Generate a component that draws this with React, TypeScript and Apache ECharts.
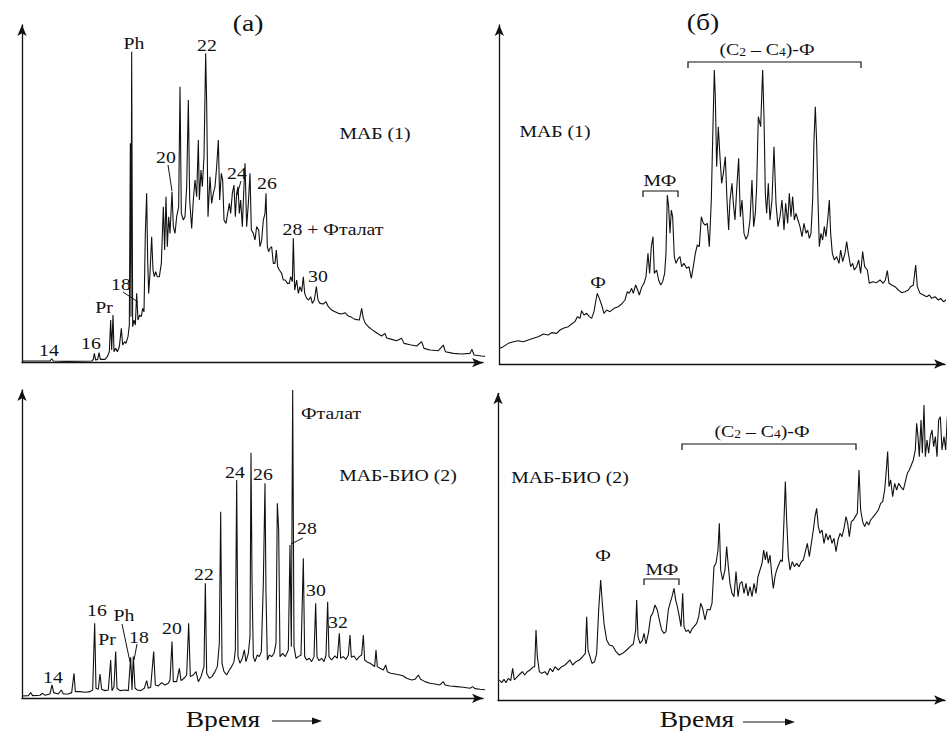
import React, { useEffect, useRef } from "react";
import * as echarts from "echarts";

// Panel (a), MAB (1): [time, intensity]
const traceA: number[][] = [
  [0,5],[84,5],[89,12],[94,5],[134,4],[209,5],[214,10],[217,28],[221,8],[227,10],[231,30],[235,10],[249,10],[256,18],[262,33],
  [266,128],[269,38],[273,143],[276,33],[281,43],[286,33],[292,48],[298,103],[302,53],[308,63],[312,58],[318,78],[322,113],
  [325,658],[327,138],[329,933],[332,108],[336,128],[340,113],[344,208],[348,128],[353,143],[358,138],[362,163],[366,153],
  [370,388],[374,508],[377,308],[380,208],[384,268],[389,378],[393,278],[397,258],[401,273],[406,258],[412,258],[418,298],
  [424,468],[428,338],[432,498],[436,348],[440,438],[444,388],[450,513],[454,408],[459,388],[464,438],[470,468],[474,828],
  [478,448],[484,428],[489,438],[494,528],[499,788],[503,488],[509,403],[514,488],[519,548],[524,498],[529,668],[532,488],
  [537,578],[541,528],[546,618],[551,928],[554,778],[558,438],[564,558],[569,478],[574,508],[579,528],[584,588],[589,668],
  [593,488],[598,568],[602,548],[606,428],[612,418],[617,448],[622,478],[626,448],[631,508],[636,533],[640,438],[644,508],
  [648,528],[652,448],[656,488],[661,408],[665,508],[669,598],[674,408],[679,478],[684,568],[688,398],[694,388],[699,368],
  [704,408],[710,398],[714,348],[719,368],[724,428],[729,448],[732,508],[736,348],[740,333],[744,343],[749,348],[754,298],
  [759,298],[763,338],[767,288],[772,278],[779,268],[784,248],[790,248],[796,238],[802,238],[806,258],[811,243],[814,373],
  [818,218],[824,248],[829,208],[834,228],[839,213],[844,258],[848,208],[854,193],[860,188],[866,198],[871,178],[877,188],
  [883,228],[888,188],[894,178],[904,176],[912,183],[919,168],[929,158],[939,153],[949,148],[959,146],[969,150],[979,140],
  [989,136],[999,130],[1012,128],[1019,163],[1024,133],[1030,118],[1039,108],[1049,100],[1059,93],[1069,86],[1079,80],
  [1089,88],[1094,74],[1109,70],[1124,66],[1139,73],[1146,58],[1164,54],[1184,50],[1199,63],[1206,43],[1224,38],[1249,36],
  [1264,53],[1270,33],[1294,28],[1319,26],[1344,28],[1350,40],[1356,23],[1379,20],[1396,18]
];

// Panel (б), MAB (1)
const traceB: number[][] = [
  [2,47],[12,52],[27,62],[42,67],[57,70],[72,67],[87,72],[102,77],[117,82],[132,90],[147,87],[157,94],[172,92],[182,102],
  [192,107],[207,112],[217,120],[227,127],[234,142],[242,137],[247,160],[254,147],[262,152],[270,142],[277,137],[284,157],
  [290,192],[294,212],[300,197],[307,177],[314,152],[322,162],[332,157],[344,167],[357,172],[367,180],[377,192],[384,217],
  [390,212],[397,227],[402,212],[409,237],[415,222],[420,207],[427,230],[434,242],[440,262],[446,332],[451,272],[456,352],
  [461,382],[465,272],[472,282],[478,252],[484,237],[490,247],[496,272],[500,332],[504,507],[508,472],[512,392],[516,462],
  [520,442],[525,322],[530,302],[537,317],[542,322],[547,292],[554,302],[562,287],[569,292],[576,257],[582,292],[588,332],
  [594,357],[600,352],[606,442],[612,422],[618,417],[624,422],[630,352],[636,492],[640,672],[645,882],[648,802],[652,592],
  [657,712],[662,622],[667,542],[672,572],[678,622],[683,492],[688,402],[692,492],[698,542],[702,482],[707,432],[712,522],
  [718,617],[723,442],[728,492],[734,392],[740,374],[746,387],[752,432],[758,552],[763,412],[768,452],[772,532],[777,742],
  [784,712],[790,882],[794,742],[798,512],[802,452],[807,542],[812,432],[818,492],[824,652],[830,482],[836,412],[842,442],
  [848,492],[854,402],[859,482],[865,422],[870,512],[875,442],[880,502],[885,432],[890,452],[896,432],[902,412],[908,382],
  [914,422],[920,392],[925,402],[930,377],[935,392],[940,492],[944,672],[948,772],[952,662],[956,492],[960,352],[965,392],
  [970,372],[975,412],[980,382],[986,442],[990,492],[994,392],[999,332],[1005,312],[1012,322],[1019,302],[1024,342],
  [1030,307],[1037,332],[1042,367],[1047,332],[1054,292],[1060,302],[1065,282],[1072,292],[1078,312],[1084,272],[1090,337],
  [1096,292],[1104,282],[1110,242],[1120,247],[1132,244],[1142,252],[1152,242],[1158,252],[1164,280],[1169,242],[1177,237],
  [1187,232],[1197,222],[1207,214],[1217,217],[1227,222],[1234,232],[1242,237],[1249,297],[1254,232],[1262,212],[1272,207],
  [1282,202],[1290,207],[1297,197],[1307,202],[1317,192],[1324,197],[1332,187],[1340,192],[1346,182],[1352,177]
];

// Panel (a), MAB-BIO (2)
const traceC: number[][] = [
  [0,7],[19,8],[26,17],[32,8],[54,9],[62,15],[69,9],[84,13],[90,40],[95,17],[109,13],[118,25],[124,13],[139,13],[149,17],
  [156,75],[160,20],[174,20],[189,18],[204,20],[212,25],[218,225],[222,30],[229,27],[234,73],[239,27],[249,23],[259,25],
  [266,115],[270,23],[276,35],[281,140],[285,30],[294,23],[309,25],[319,23],[326,123],[330,25],[334,125],[339,30],[346,25],
  [356,23],[367,30],[374,53],[379,30],[386,33],[395,140],[400,40],[409,37],[419,47],[429,40],[439,45],[444,55],[450,170],
  [454,50],[464,50],[472,90],[477,53],[486,60],[494,70],[500,225],[505,65],[514,70],[522,80],[529,50],[537,65],[546,95],
  [550,345],[554,75],[562,60],[570,65],[579,80],[586,95],[592,165],[596,560],[600,105],[606,80],[614,70],[622,85],[629,95],
  [636,110],[640,145],[644,655],[648,125],[654,105],[661,120],[667,145],[672,110],[679,135],[684,185],[687,737],[690,355],
  [694,125],[699,110],[706,130],[712,125],[718,140],[724,345],[729,645],[732,315],[736,115],[742,130],[749,125],[756,135],
  [762,165],[766,585],[770,505],[774,125],[782,135],[790,125],[799,145],[804,460],[808,155],[812,925],[816,155],[822,120],
  [829,125],[837,130],[844,420],[848,125],[854,115],[862,120],[869,110],[876,125],[881,285],[885,125],[891,113],[899,120],
  [906,110],[912,130],[917,290],[921,125],[929,115],[939,127],[946,120],[952,195],[956,120],[964,125],[972,117],[979,130],
  [984,190],[988,123],[996,127],[1004,115],[1012,125],[1019,130],[1024,190],[1028,115],[1034,110],[1044,105],[1052,100],
  [1058,95],[1062,145],[1066,95],[1074,90],[1084,85],[1091,100],[1096,80],[1106,75],[1119,73],[1134,70],[1144,67],[1154,60],
  [1169,55],[1179,57],[1189,70],[1196,57],[1209,50],[1224,45],[1239,43],[1254,40],[1264,50],[1269,40],[1284,37],[1304,35],
  [1324,33],[1344,30],[1352,35],[1359,29],[1374,27],[1396,25]
];

// Panel (б), MAB-BIO (2)
const traceD: number[][] = [
  [4,60],[11,52],[18,62],[24,52],[31,65],[38,58],[44,95],[49,60],[58,70],[66,78],[73,85],[80,75],[88,85],[96,90],[104,98],
  [110,100],[114,210],[118,130],[124,85],[131,80],[141,85],[148,75],[156,95],[164,85],[171,100],[181,90],[191,100],[201,105],
  [211,115],[216,120],[224,105],[234,115],[244,120],[254,130],[262,140],[266,250],[270,150],[276,130],[282,110],[290,115],
  [296,140],[302,270],[308,360],[313,290],[318,230],[326,180],[334,165],[344,162],[354,145],[364,135],[374,140],[386,150],
  [396,160],[406,168],[413,210],[416,300],[420,190],[426,170],[433,178],[438,200],[444,168],[451,200],[458,250],[464,260],
  [471,285],[478,270],[484,240],[491,210],[498,200],[504,205],[511,270],[516,290],[522,310],[528,335],[533,300],[538,280],
  [544,250],[549,220],[554,320],[558,220],[564,205],[571,210],[576,200],[583,215],[588,220],[596,230],[602,250],[608,290],
  [614,275],[621,240],[628,272],[636,270],[642,290],[648,400],[654,410],[660,450],[664,530],[668,390],[674,360],[681,390],
  [686,460],[691,400],[696,350],[702,320],[708,310],[714,385],[720,310],[726,350],[732,355],[738,320],[744,350],[750,312],
  [756,340],[762,310],[768,350],[774,320],[780,370],[786,390],[792,410],[797,450],[802,420],[806,445],[811,410],[816,435],
  [821,380],[826,335],[831,370],[836,390],[842,405],[848,420],[853,415],[858,540],[862,655],[866,540],[871,430],[876,390],
  [883,415],[889,400],[896,410],[903,400],[910,415],[916,420],[922,445],[928,470],[934,430],[940,470],[946,510],[951,550],
  [956,575],[961,520],[966,500],[972,510],[978,470],[984,500],[990,480],[996,495],[1002,470],[1008,485],[1014,445],[1020,480],
  [1026,500],[1032,490],[1038,515],[1044,550],[1049,530],[1054,490],[1060,535],[1066,540],[1072,550],[1078,560],[1083,690],
  [1088,570],[1094,535],[1100,520],[1106,535],[1112,525],[1118,540],[1126,550],[1134,560],[1141,570],[1148,590],[1154,595],
  [1160,630],[1165,690],[1169,745],[1173,640],[1178,660],[1184,610],[1190,650],[1196,630],[1202,650],[1208,640],[1216,630],
  [1222,655],[1228,680],[1234,690],[1240,705],[1246,720],[1252,750],[1256,830],[1260,790],[1264,730],[1269,840],[1273,740],
  [1278,885],[1282,730],[1287,780],[1292,740],[1297,790],[1302,810],[1307,760],[1312,790],[1317,730],[1322,840],[1327,850],
  [1332,750],[1338,790],[1343,750],[1348,850],[1352,810],[1356,790]
];

const FONT = "Liberation Serif, DejaVu Serif, serif";
const INK = "#111111";
const SX = 1.13;

function txt(text: string, x: number, y: number, size = 17.5, sx = SX) {
  return {
    type: "text",
    x,
    y,
    scaleX: sx,
    style: { text, font: `${size}px ${FONT}`, fill: INK, align: "center", verticalAlign: "middle" },
    silent: true,
  };
}
function seg(x1: number, y1: number, x2: number, y2: number, w = 1) {
  return { type: "line", shape: { x1, y1, x2, y2 }, style: { stroke: INK, lineWidth: w }, silent: true };
}
function bracket(x1: number, x2: number, y: number, h = 6) {
  return {
    type: "polyline",
    shape: { points: [[x1, y + h], [x1, y], [x2, y], [x2, y + h]] },
    style: { stroke: INK, lineWidth: 1.2, fill: "none" },
    silent: true,
  };
}
function timeArrow(x1: number, x2: number, y: number) {
  return [
    seg(x1, y, x2 - 6, y, 1.2),
    { type: "polygon", shape: { points: [[x2, y], [x2 - 10, y - 3.5], [x2 - 10, y + 3.5]] }, style: { fill: INK }, silent: true },
  ];
}
function c2c4(x: number, y: number) {
  return {
    type: "text",
    x,
    y,
    scaleX: SX,
    style: {
      text: "{n|(C}{s|2}{n| – C}{s|4}{n|)-Ф}",
      font: `17.5px ${FONT}`,
      fill: INK,
      align: "center",
      verticalAlign: "middle",
      rich: {
        n: { font: `17.5px ${FONT}`, fill: INK, lineHeight: 20, verticalAlign: "bottom" },
        s: { font: `12px ${FONT}`, fill: INK, lineHeight: 20, verticalAlign: "bottom", padding: [6, 0, 0, 0] },
      },
    },
    silent: true,
  };
}

const grids = [
  { left: 22, top: 25, width: 461, height: 337.7 },
  { left: 499.3, top: 25, width: 445.7, height: 339 },
  { left: 22, top: 390, width: 461, height: 308.3 },
  { left: 498, top: 393.3, width: 447, height: 306.7 },
];
const xMax = [1383, 1337, 1383, 1341];
const yMax = [1013, 1017, 925, 920];

export default function App() {
  const ref = useRef<HTMLDivElement>(null);
  useEffect(() => {
    document.body.style.margin = "0";
    if (!ref.current) return;
    const chart = echarts.init(ref.current, null, { renderer: "svg" });
    const axisLine = {
      show: true,
      symbol: ["none", "arrow"],
      symbolSize: [7, 11],
      lineStyle: { color: INK, width: 1.3 },
    };
    const traces = [traceA, traceB, traceC, traceD];
    chart.setOption({
      animation: false,
      backgroundColor: "#ffffff",
      textStyle: { fontFamily: FONT },
      grid: grids.map((g) => ({ ...g, containLabel: false })),
      xAxis: grids.map((_, i) => ({
        type: "value",
        gridIndex: i,
        min: 0,
        max: xMax[i],
        axisLine,
        axisTick: { show: false },
        axisLabel: { show: false },
        splitLine: { show: false },
      })),
      yAxis: grids.map((_, i) => ({
        type: "value",
        gridIndex: i,
        min: 0,
        max: yMax[i],
        axisLine,
        axisTick: { show: false },
        axisLabel: { show: false },
        splitLine: { show: false },
      })),
      series: traces.map((d, i) => ({
        type: "line",
        xAxisIndex: i,
        yAxisIndex: i,
        data: d,
        showSymbol: false,
        symbol: "none",
        clip: true,
        lineStyle: { color: INK, width: 1.1 },
      })),
      graphic: [
        // panel (a)
        txt("(a)", 248, 23, 24, 1.15),
        txt("Ph", 134, 43),
        txt("22", 207, 45),
        txt("МАБ (1)", 375, 133),
        txt("20", 166, 157),
        seg(168, 165, 172, 191),
        txt("24", 237, 173),
        seg(241, 181, 237, 195),
        txt("26", 267, 183),
        txt("28 + Фталат", 333, 229),
        txt("30", 318, 276),
        txt("18", 121, 284),
        seg(123, 292, 138, 302),
        txt("Pr", 104, 307),
        txt("16", 91, 343),
        txt("14", 49, 350),
        // panel (б)
        txt("(б)", 703, 22, 24, 1.15),
        c2c4(767, 48),
        bracket(688, 861, 62),
        txt("МАБ (1)", 555, 131),
        txt("МФ", 660, 180),
        bracket(643, 678, 191),
        txt("Ф", 598, 282),
        // bottom-left
        txt("Фталат", 331, 413),
        txt("24", 235, 472),
        txt("26", 263, 474),
        txt("МАБ-БИО (2)", 398, 475),
        txt("28", 307, 528),
        seg(303, 538, 291, 544),
        txt("22", 204, 574),
        txt("30", 316, 590),
        txt("16", 97, 610),
        txt("Ph", 124, 615),
        seg(122, 624, 130, 662),
        txt("32", 338, 622),
        txt("20", 172, 628),
        txt("18", 139, 637),
        seg(137, 644, 134, 660),
        txt("Pr", 107, 639),
        txt("14", 53, 677),
        txt("Время", 223, 719, 24, 1.15),
        ...timeArrow(272, 322, 721),
        // bottom-right
        c2c4(762, 430),
        bracket(682, 856, 444),
        txt("МАБ-БИО (2)", 570, 477),
        txt("Ф", 603, 555),
        txt("МФ", 662, 569),
        bracket(644, 679, 579),
        txt("Время", 697, 719, 24, 1.15),
        ...timeArrow(743, 795, 722),
      ],
    });
    return () => chart.dispose();
  }, []);
  return <div ref={ref} style={{ width: 950, height: 731 }} />;
}
